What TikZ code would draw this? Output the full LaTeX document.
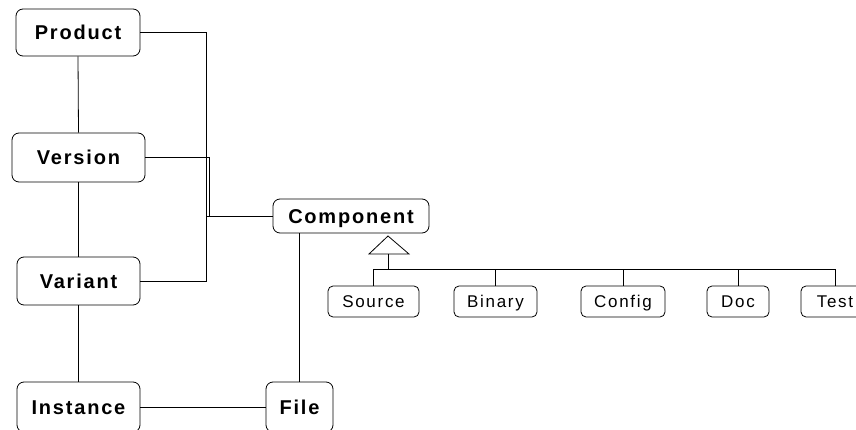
\documentclass[tikz,border=0pt]{standalone}
\usepackage{fontspec}
\setmainfont{Liberation Sans}
\newfontfamily\bigfont[LetterSpace=9]{Liberation Sans Bold}
\newfontfamily\smallfont[LetterSpace=10]{Liberation Sans}
\begin{document}
\begin{tikzpicture}[x=1pt,y=-1pt,
  line width=0.8pt,
  bigbox/.style={draw, rounded corners=7pt, inner sep=0pt,
    text height=14.3pt, text depth=0pt,
    font=\bigfont\fontsize{20}{24}\selectfont},
  smallbox/.style={draw, rounded corners=5pt, inner sep=0pt, minimum height=31pt,
    text height=12.2pt, text depth=0pt,
    font=\smallfont\fontsize{17}{20}\selectfont}]
\path[use as bounding box, clip] (0,0) rectangle (856,430);
\fill[white] (0,0) rectangle (856,430);

\node[bigbox, minimum width=124pt, minimum height=47pt] (prod) at (78,32.5) {Product};
\node[bigbox, minimum width=133pt, minimum height=49pt] (vers) at (78.5,157.5) {Version};
\node[bigbox, minimum width=123pt, minimum height=48pt] (vari) at (78.5,281) {Variant};
\node[bigbox, minimum width=123pt, minimum height=50pt] (inst) at (78.5,407) {Instance};
\node[bigbox, minimum width=67pt, minimum height=50pt] (file) at (299.5,407) {File};
\node[bigbox, minimum width=156pt, minimum height=34pt] (comp) at (351,216) {Component};

\node[smallbox, minimum width=91pt] (src) at (373.5,301.5) {Source};
\node[smallbox, minimum width=83pt] (bin) at (495.5,301.5) {Binary};
\node[smallbox, minimum width=84pt] (cfg) at (623,301.5) {Config};
\node[smallbox, minimum width=62pt] (doc) at (738,301.5) {Doc};
\node[smallbox, minimum width=68pt] (tst) at (835,301.5) {Test};

% left column
\draw (prod.south) -- (vers.north);
\draw (vers.south) -- (vari.north);
\draw (vari.south) -- (inst.north);
\draw (inst.east) -- (file.west);

% to component
\coordinate (jA) at (206,216);
\coordinate (jB) at (209,216);
\draw (prod.east) -| (jA) -- (comp.west);
\draw (vers.east) -| (jB);
\draw (vari.east) -| (jA);

% component to file
\draw (file.north) -- (file.north |- comp.south);

% generalization
\coordinate (apex) at (388,236);
\coordinate (tbl) at (369,254);
\coordinate (tbr) at (409,254);
\coordinate (tb) at (388,254);
\coordinate (bus) at (388,269);
\draw (apex) -- (tbl) -- (tbr) -- cycle;
\draw (tb) -- (bus);
\draw (src.north |- bus) -- (tst.north |- bus);
\foreach \n in {src,bin,cfg,doc,tst} \draw (\n.north) -- (\n.north |- bus);
\end{tikzpicture}
\end{document}
